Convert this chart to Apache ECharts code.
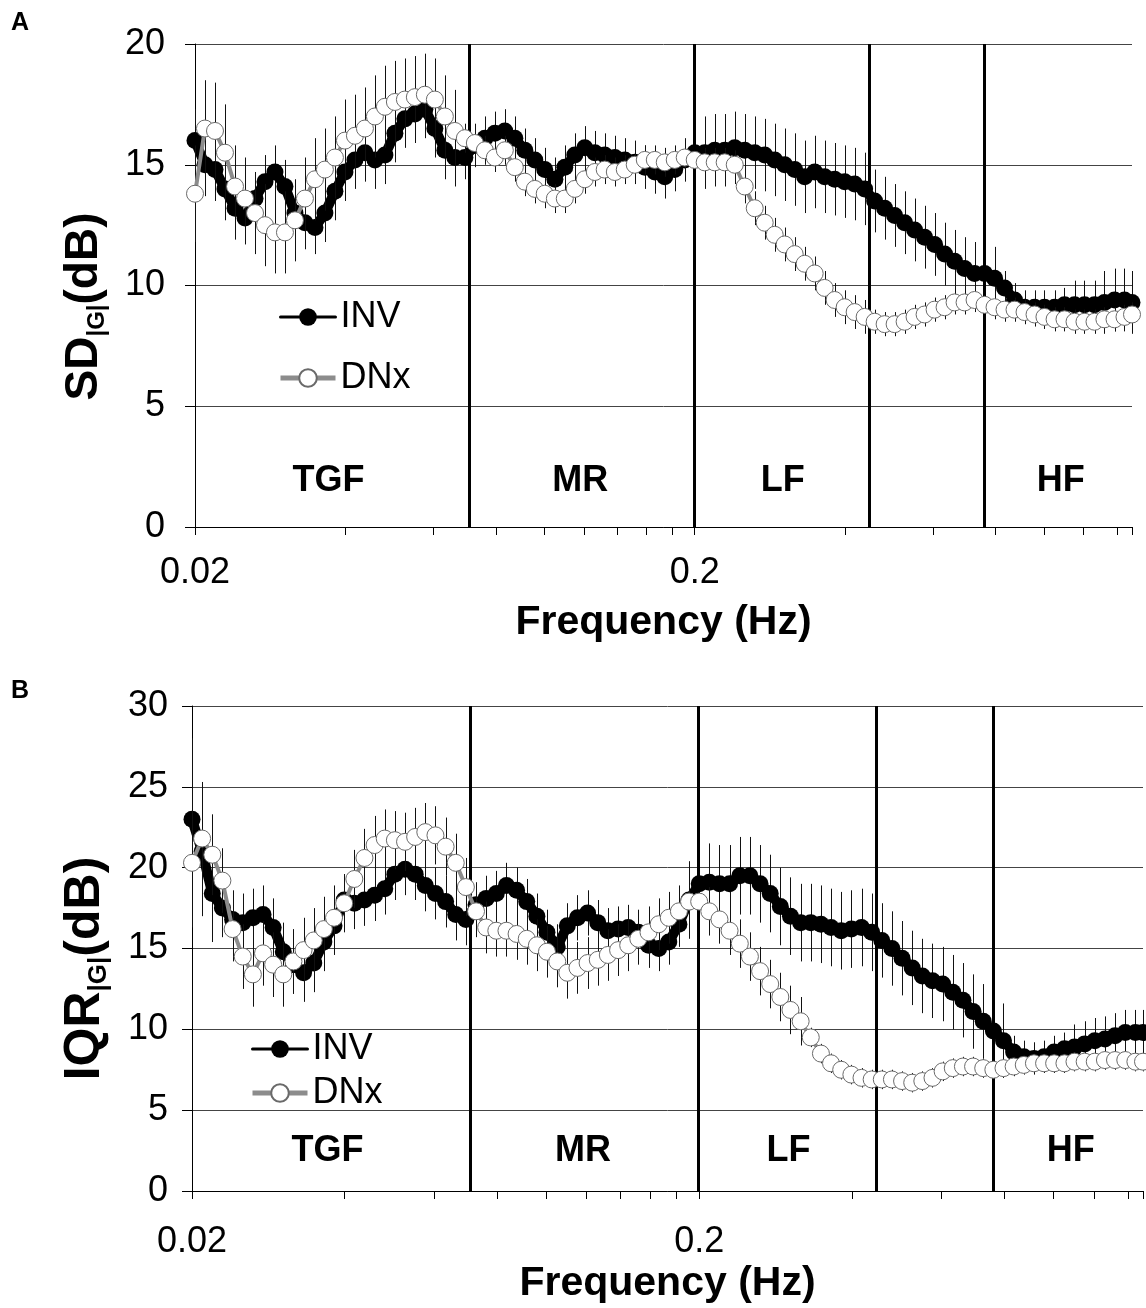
<!DOCTYPE html>
<html><head><meta charset="utf-8">
<script src="https://cdn.jsdelivr.net/npm/echarts@6/dist/echarts.min.js"></script>
<style>html,body{margin:0;padding:0;background:#fff}#c{width:1146px;height:1308px}</style>
</head><body><div id="c"></div>
<script>
const FONT = 'Liberation Sans, Arial, Helvetica, sans-serif';

const freq = [0.02,0.02094,0.02193,0.02296,0.02405,0.02518,0.02637,0.02761,0.02891,0.03027,
0.0317,0.03319,0.03476,0.03639,0.03811,0.03991,0.04179,0.04376,0.04582,0.04798,
0.05024,0.05261,0.05508,0.05768,0.0604,0.06325,0.06623,0.06935,0.07262,0.07604,
0.07962,0.08337,0.0873,0.09142,0.09573,0.1002,0.105,0.1099,0.1151,0.1205,
0.1262,0.1321,0.1384,0.1449,0.1517,0.1589,0.1664,0.1742,0.1824,0.191,
0.2,0.2094,0.2193,0.2296,0.2405,0.2518,0.2637,0.2761,0.2891,0.3027,
0.317,0.3319,0.3476,0.3639,0.3811,0.3991,0.4179,0.4376,0.4582,0.4798,
0.5024,0.5261,0.5508,0.5768,0.604,0.6325,0.6623,0.6935,0.7262,0.7604,
0.7962,0.8337,0.873,0.9142,0.9573,1.002,1.05,1.099,1.151,1.205,
1.262,1.321,1.384,1.449,1.5];

// Panel A: SD|G| (dB)
const invSD = [16.0,15.0,14.8,14.0,13.2,12.8,13.6,14.3,14.7,14.1,
13.0,12.6,12.4,13.0,13.9,14.7,15.2,15.5,15.2,15.4,
16.3,16.9,17.1,17.3,16.5,15.6,15.3,15.3,15.8,16.1,
16.3,16.4,16.1,15.6,15.2,14.8,14.4,14.9,15.4,15.7,
15.5,15.4,15.3,15.2,15.1,14.9,14.7,14.5,14.8,15.2,
15.5,15.5,15.6,15.6,15.7,15.6,15.5,15.4,15.2,15.0,
14.8,14.5,14.7,14.5,14.4,14.3,14.2,14.0,13.5,13.2,
12.9,12.6,12.3,12.0,11.7,11.3,11.0,10.7,10.5,10.5,
10.3,9.9,9.4,9.1,9.1,9.1,9.1,9.2,9.2,9.2,
9.2,9.3,9.4,9.4,9.3];
const invSDerr = [1.3,1.3,1.3,1.3,1.3,1.1,1.1,1.1,1.1,1.1,
1.1,1.1,1.1,1.2,1.2,1.2,1.2,1.2,1.2,1.2,
1.2,1.2,1.2,1.2,1.2,1.2,1.2,0.9,0.9,0.9,
0.9,0.9,0.9,0.9,0.9,0.9,0.9,0.9,0.9,0.9,
0.9,0.9,0.9,0.9,0.9,0.9,0.9,0.9,0.9,0.9,
1.5,1.5,1.5,1.5,1.5,1.5,1.5,1.5,1.5,1.5,
1.5,1.5,1.5,1.5,1.5,1.5,1.5,1.5,1.3,1.3,
1.3,1.3,1.3,1.3,1.3,1.3,1.3,1.3,1.3,1.3,
1.3,0.7,0.7,0.7,0.7,0.7,0.7,0.7,1.0,1.0,
1.0,1.3,1.3,1.3,1.3];
const dnxSD = [13.8,16.5,16.4,15.5,14.1,13.6,13.0,12.5,12.2,12.2,
12.7,13.6,14.4,14.8,15.3,16.0,16.2,16.5,17.0,17.4,
17.6,17.7,17.8,17.9,17.7,17.0,16.4,16.1,15.9,15.6,
15.3,15.6,14.9,14.3,14.0,13.8,13.6,13.6,14.0,14.4,
14.7,14.8,14.7,14.8,15.0,15.2,15.2,15.1,15.2,15.3,
15.2,15.1,15.1,15.1,15.0,14.1,13.2,12.6,12.1,11.7,
11.3,10.9,10.5,9.9,9.4,9.1,8.9,8.7,8.5,8.4,
8.4,8.5,8.7,8.8,9.0,9.1,9.3,9.3,9.4,9.2,
9.1,9.0,9.0,8.9,8.8,8.7,8.6,8.6,8.5,8.5,
8.5,8.6,8.6,8.7,8.8];
const dnxSDerr = [2.0,2.0,2.0,2.0,1.7,1.7,1.7,1.7,1.7,1.7,
1.7,1.7,1.7,1.7,1.7,1.7,1.7,1.7,1.7,1.7,
1.7,1.7,1.7,1.7,1.7,1.7,1.7,0.6,0.6,0.6,
0.6,0.6,0.6,0.6,0.6,0.6,0.6,0.6,0.6,0.6,
0.6,0.6,0.6,0.6,0.6,0.6,0.6,0.6,0.6,0.6,
0.6,0.6,0.6,0.6,0.6,0.7,0.7,0.7,0.7,0.7,
0.7,0.7,0.7,0.7,0.7,0.7,0.7,0.7,0.5,0.5,
0.5,0.5,0.5,0.5,0.5,0.5,0.5,0.5,0.5,0.5,
0.5,0.5,0.5,0.5,0.5,0.5,0.5,0.5,0.5,0.5,
0.5,0.5,0.5,0.5,0.5];

// Panel B: IQR|G| (dB)
const invIQR = [23.0,21.0,18.4,17.5,16.8,16.6,16.9,17.1,16.3,14.8,
14.0,13.5,14.1,15.4,16.4,18.0,17.8,18.0,18.3,18.7,
19.6,19.9,19.6,18.9,18.4,17.9,17.1,16.8,17.7,18.1,
18.4,18.9,18.6,17.9,17.0,16.0,15.1,16.4,16.9,17.2,
16.6,16.1,16.2,16.3,16.0,15.2,15.0,15.4,16.5,18.0,
19.0,19.1,19.0,19.0,19.5,19.5,19.0,18.4,17.6,17.0,
16.6,16.6,16.5,16.3,16.1,16.2,16.3,16.0,15.5,15.0,
14.4,13.8,13.3,13.0,12.8,12.3,11.8,11.1,10.5,9.9,
9.3,8.6,8.3,8.2,8.3,8.6,8.8,8.9,9.1,9.3,
9.4,9.6,9.8,9.8,9.8];
const invIQRerr = [5.0,4.0,3.0,1.8,1.8,1.8,1.8,1.8,1.8,1.8,
1.8,1.8,1.8,1.8,1.8,1.6,1.6,1.6,1.6,1.6,
1.6,1.6,1.6,1.6,1.6,1.6,1.6,1.6,1.4,1.4,
1.4,1.4,1.4,1.4,1.4,1.4,1.4,1.4,1.4,1.4,
1.4,1.4,1.4,1.4,1.4,1.4,1.4,1.4,1.4,2.4,
2.4,2.4,2.4,2.4,2.4,2.4,2.4,2.4,2.4,2.4,
2.4,2.4,2.4,2.4,2.4,2.4,2.4,2.4,2.3,2.3,
2.3,2.3,2.3,2.3,2.3,2.3,2.3,2.3,2.3,2.3,
2.3,1.0,1.0,1.0,1.0,1.0,1.0,1.4,1.4,1.4,
1.4,1.4,1.4,1.4,1.4];
const dnxIQR = [20.3,21.8,20.8,19.2,16.2,14.5,13.4,14.7,14.0,13.4,
14.2,14.9,15.5,16.2,16.9,17.8,19.3,20.6,21.4,21.8,
21.7,21.6,21.9,22.2,22.0,21.3,20.3,18.8,17.3,16.3,
16.1,16.1,15.9,15.6,15.2,14.8,14.2,13.5,13.8,14.1,
14.3,14.6,14.9,15.2,15.6,16.0,16.5,16.9,17.3,17.9,
17.9,17.3,16.8,16.1,15.3,14.5,13.6,12.8,12.0,11.2,
10.5,9.5,8.5,7.9,7.5,7.2,7.0,6.9,6.9,6.9,
6.8,6.7,6.8,7.0,7.4,7.6,7.7,7.7,7.6,7.5,
7.6,7.7,7.8,7.9,7.9,7.9,7.9,8.0,8.0,8.0,
8.1,8.1,8.1,8.0,8.0];
const dnxIQRerr = [4.0,3.5,2.5,2.0,2.0,2.0,2.0,2.0,2.0,2.0,
2.0,2.0,2.0,2.0,2.0,1.8,1.8,1.8,1.8,1.8,
1.8,1.8,1.8,1.8,1.8,1.8,1.8,1.8,1.6,1.6,
1.6,1.6,1.6,1.6,1.6,1.6,1.6,1.6,1.6,1.6,
1.6,1.6,1.6,1.6,1.6,1.6,1.6,1.6,1.6,1.5,
1.5,1.5,1.5,1.5,1.5,1.5,1.5,1.5,1.5,1.5,
1.5,0.6,0.6,0.6,0.6,0.6,0.6,0.6,0.6,0.6,
0.6,0.6,0.6,0.6,0.6,0.6,0.6,0.6,0.6,0.6,
0.6,0.6,0.6,0.6,0.6,0.6,0.6,0.6,0.6,0.6,
0.6,0.6,0.6,0.6,0.6];

// Frequency bands
const bandEdges = [0.07, 0.2, 0.45, 0.75];
const bandNames = ['TGF', 'MR', 'LF', 'HF'];
const bandLabelFreq = [0.037, 0.118, 0.3, 1.08];
const bandLabelY = [1.9, 2.5];

// Axis ticks
const xMin = 0.02, xMax = 1.5;
const xTickFreq = [0.02,0.04,0.06,0.08,0.1,0.12,0.14,0.16,0.18,0.2,0.4,0.6,0.8,1.0,1.2,1.4,1.5];
const xLabelFreq = [0.02, 0.2];
const xLabelText = ['0.02', '0.2'];
const yMax = [20, 30];
const yStep = 5;

const L = f => Math.log10(f);
const pts = v => freq.map((f, i) => [L(f), v[i]]);
const errPts = (v, e) => freq.map((f, i) => [L(f), v[i] - e[i], v[i] + e[i]]);

function errSeries(gi, v, e, z) {
  return {
    type: 'custom', xAxisIndex: gi, yAxisIndex: gi, silent: true, z: z,
    data: errPts(v, e), encode: {x: 0, y: [1, 2]},
    renderItem: function (p, api) {
      const a = api.coord([api.value(0), api.value(1)]);
      const b = api.coord([api.value(0), api.value(2)]);
      const x = Math.round(a[0]) + 0.5;
      return {type: 'line', shape: {x1: x, y1: a[1], x2: x, y2: b[1]},
        style: {stroke: '#111', lineWidth: 1}};
    }
  };
}
function invSeries(gi, v) {
  return {name: 'INV', type: 'line', xAxisIndex: gi, yAxisIndex: gi, data: pts(v),
    symbol: 'circle', symbolSize: 17, showAllSymbol: true, z: 3,
    itemStyle: {color: '#000'}, lineStyle: {color: '#000', width: 10, join: 'round', cap: 'round'}};
}
function dnxSeries(gi, v) {
  return {name: 'DNx', type: 'line', xAxisIndex: gi, yAxisIndex: gi, data: pts(v),
    symbol: 'circle', symbolSize: 17, showAllSymbol: true, z: 5,
    itemStyle: {color: '#fff', borderColor: '#6a6a6a', borderWidth: 1},
    lineStyle: {color: '#8c8c8c', width: 4}};
}
function bandSeries(gi) {
  return {type: 'scatter', xAxisIndex: gi, yAxisIndex: gi, z: 8, silent: true,
    symbolSize: 1, itemStyle: {color: 'rgba(0,0,0,0)', opacity: 1},
    data: bandNames.map((n, i) => ({name: n, value: [L(bandLabelFreq[i]), bandLabelY[gi]]})),
    label: {show: true, position: 'inside', formatter: '{b}', color: '#000', opacity: 1,
      textBorderWidth: 0, fontSize: 36, fontWeight: 'bold', fontFamily: FONT},
    emphasis: {disabled: true},
    markLine: {silent: true, symbol: 'none', label: {show: false},
      lineStyle: {color: '#000', width: 3, type: 'solid'},
      data: bandEdges.map(f => ({xAxis: L(f)}))}
  };
}
function xAxis(gi, margin, gap) {
  return {type: 'value', gridIndex: gi, min: L(xMin), max: L(xMax),
    axisLine: {show: true, onZero: false, lineStyle: {color: '#000', width: 1}},
    splitLine: {show: false},
    axisTick: {show: true, inside: false, length: 8, lineStyle: {color: '#000'},
      customValues: xTickFreq.map(L)},
    axisLabel: {customValues: xLabelFreq.map(L), fontSize: 36, color: '#000', fontFamily: FONT,
      margin: margin,
      formatter: v => { const k = xLabelFreq.findIndex(f => Math.abs(L(f) - v) < 1e-6); return k >= 0 ? xLabelText[k] : ''; }},
    name: 'Frequency (Hz)', nameLocation: 'middle', nameGap: gap,
    nameTextStyle: {fontSize: 41, fontWeight: 'bold', color: '#000', fontFamily: FONT}};
}
function yAxis(gi, name, margin, gap, pad, fs, sfs) {
  return {type: 'value', gridIndex: gi, min: 0, max: yMax[gi], interval: yStep,
    axisLine: {show: true, onZero: false, lineStyle: {color: '#000', width: 1}},
    axisTick: {show: true, length: 10, lineStyle: {color: '#000'}},
    splitLine: {show: true, lineStyle: {color: '#444', width: 1}},
    axisLabel: {fontSize: 36, color: '#000', fontFamily: FONT, margin: margin},
    name: name, nameLocation: 'middle', nameGap: gap,
    nameTextStyle: {color: '#000', fontFamily: FONT, fontWeight: 'bold', fontSize: fs, padding: pad,
      rich: {
        m: {fontSize: fs, fontWeight: 'bold', fontFamily: FONT, color: '#000', lineHeight: fs + 4},
        s: {fontSize: sfs, fontWeight: 'bold', fontFamily: FONT, color: '#000', verticalAlign: 'bottom', lineHeight: Math.round(sfs * 0.65)}
      }}};
}
const legendText = {fontSize: 36, color: '#000', fontFamily: FONT, lineHeight: 36};
const legendData = [
  {name: 'INV', lineStyle: {width: 3, color: '#000'}},
  {name: 'DNx', lineStyle: {width: 5, color: '#8c8c8c'}}
];

const chart = echarts.init(document.getElementById('c'));
chart.setOption({
  animation: false,
  backgroundColor: '#fff',
  title: [
    {text: 'A', left: 6, top: 6, textStyle: {fontSize: 25, fontWeight: 'bold', color: '#000', fontFamily: FONT}},
    {text: 'B', left: 6, top: 674, textStyle: {fontSize: 25, fontWeight: 'bold', color: '#000', fontFamily: FONT}}
  ],
  grid: [
    {left: 195, top: 44, right: 14, bottom: 781},
    {left: 192, top: 706, right: 3, bottom: 117}
  ],
  legend: [
    {orient: 'vertical', left: 273, top: 294, itemWidth: 55, itemHeight: 22, itemGap: 25,
      selectedMode: false, textStyle: legendText, data: legendData},
    {orient: 'vertical', left: 245, top: 1026, itemWidth: 55, itemHeight: 22, itemGap: 8,
      selectedMode: false, textStyle: legendText, data: legendData}
  ],
  xAxis: [xAxis(0, 28, 75), xAxis(1, 33, 72)],
  yAxis: [
    yAxis(0, '{m|SD}{s||G|}{m|(dB)}', 30, 86, [0, 42, 0, 0], 46, 24),
    yAxis(1, '{m|IQR}{s||G|}{m|(dB)}', 24, 80, [0, 40, 0, 0], 50, 26)
  ],
  series: [
    errSeries(0, invSD, invSDerr, 2), invSeries(0, invSD),
    errSeries(0, dnxSD, dnxSDerr, 4), dnxSeries(0, dnxSD),
    bandSeries(0),
    errSeries(1, invIQR, invIQRerr, 2), invSeries(1, invIQR),
    errSeries(1, dnxIQR, dnxIQRerr, 4), dnxSeries(1, dnxIQR),
    bandSeries(1)
  ]
});
</script></body></html>
